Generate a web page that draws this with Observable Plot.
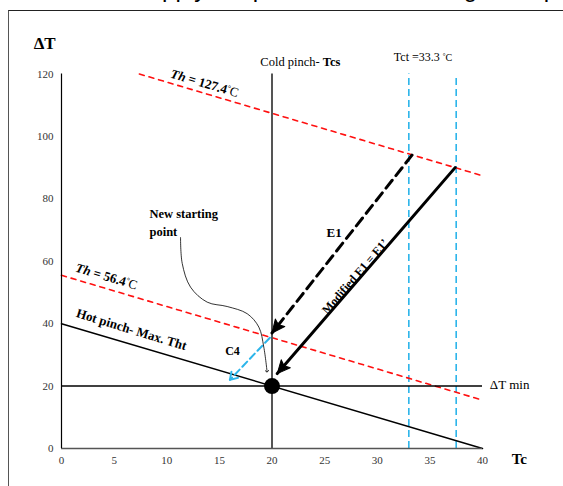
<!DOCTYPE html>
<html><head><meta charset="utf-8">
<script src="https://cdn.jsdelivr.net/npm/d3@7"></script>
<script src="https://cdn.jsdelivr.net/npm/@observablehq/plot@0.6"></script>
<style>
body{margin:0;background:#fff;}
#wrap{position:relative;width:563px;height:486px;overflow:hidden;background:#fff;}
#chart{position:absolute;left:0;top:0;}
#cap{position:absolute;left:10px;top:-23px;font:24px/24px "Liberation Sans",Arial,sans-serif;white-space:nowrap;color:#000;}
#frame{position:absolute;left:8px;top:10px;width:700px;height:700px;border-left:1.5px solid #555;border-top:1.5px solid #222;pointer-events:none;}
</style></head>
<body><div id="wrap"><div id="chart"></div><div id="cap">and the hot supply temperature and the target temperature</div><div id="frame"></div></div>
<script>
// ---- data ----
const xTicks = [0, 5, 10, 15, 20, 25, 30, 35, 40];
const yTicks = [0, 20, 40, 60, 80, 100, 120];
const hotPinch = [[0, 40], [40, 0]];
const coldPinchX = [20];
const dtMin = [20];
const th127 = [[7.4, 120], [40, 87.4]];
const th56 = [[0, 55.5], [40, 15.5]];
const tctX = [33, 37.5];
const tctTop = [120, 118.6];
const e1 = [[33.3, 94], [20, 37]];
const e1Mod = [[37.4, 90], [20.5, 24]];
const c4 = [[19.8, 35.5], [16, 22]];
const newStartCurve = [[11.31, 67.6], [11.47, 59.3], [12.26, 51.7], [13.84, 46.9], [15.74, 45.5], [17.64, 43.2], [18.75, 38.9], [19.22, 32.5], [19.53, 24.7]];
const startPoint = [[20, 20]];

// ---- layout ----
const W = 563, H = 486, mL = 61, mR = 81, mT = 73.5, mB = 38;
const kx = (W - mL - mR) / 40, ky = (H - mT - mB) / 120;
function head(seg) {
  const [a, b] = seg;
  const dx = (b[0] - a[0]) * kx, dy = -(b[1] - a[1]) * ky;
  return {x: b[0], y: b[1], rotate: Math.atan2(dx, -dy) * 180 / Math.PI};
}
const triangle = {draw(c, l, r) { c.moveTo(0, -l); c.lineTo(r, 0); c.lineTo(0, -l * 0.2); c.lineTo(-r, 0); c.closePath(); }};
const chevron = {draw(c, l, r) { c.moveTo(-r, 0); c.lineTo(0, -l); c.lineTo(r, 0); }};
const X = d => d[0], Y = d => d[1];

const serif = '"Liberation Serif","Times New Roman",serif';
const plot = Plot.plot({
  width: W, height: H, marginLeft: mL, marginRight: mR, marginTop: mT, marginBottom: mB,
  x: {domain: [0, 40]}, y: {domain: [0, 120]},
  style: {fontFamily: serif, fontSize: "11px", background: "none", color: "#000", overflow: "visible"},
  marks: [
    Plot.axisX(xTicks, {tickSize: 0, tickPadding: 8, fontSize: 11, fill: "#333", label: null}),
    Plot.axisY(yTicks, {tickSize: 0, tickPadding: 8, fontSize: 11, fill: "#333", label: null}),
    Plot.ruleX(tctX, {x: d => d, y1: 0, y2: (d, i) => tctTop[i], stroke: "#2cb5ea", strokeWidth: 1.6, strokeDasharray: "7,4"}),
    Plot.line(th127, {x: X, y: Y, stroke: "#ff1010", strokeWidth: 1.6, strokeDasharray: "5,5"}),
    Plot.line(th56, {x: X, y: Y, stroke: "#ff1010", strokeWidth: 1.6, strokeDasharray: "5,5"}),
    Plot.line(hotPinch, {x: X, y: Y, stroke: "#000", strokeWidth: 1.5}),
    Plot.ruleY(dtMin, {y: d => d, x1: 0, x2: 40, stroke: "#000", strokeWidth: 1.5}),
    Plot.ruleX(coldPinchX, {x: d => d, y1: 0, y2: 120, stroke: "#555", strokeWidth: 2}),
    Plot.ruleY([0], {x1: 0, x2: 40, stroke: "#555", strokeWidth: 1.5}),
    Plot.ruleX([0], {y1: 0, y2: 120, stroke: "#000", strokeWidth: 1.2}),
    Plot.line(e1, {x: X, y: Y, stroke: "#000", strokeWidth: 3, strokeDasharray: "10,6"}),
    Plot.line(e1Mod, {x: X, y: Y, stroke: "#000", strokeWidth: 3}),
    Plot.line(c4, {x: X, y: Y, stroke: "#2cb5ea", strokeWidth: 2, strokeDasharray: "7,4"}),
    Plot.vector([head(e1), head(e1Mod)], {x: "x", y: "y", rotate: "rotate", length: 13, r: 6, anchor: "end", shape: triangle, fill: "#000", stroke: "#000", strokeWidth: 1}),
    Plot.vector([head(c4)], {x: "x", y: "y", rotate: "rotate", length: 7, r: 4.5, anchor: "end", shape: chevron, fill: "none", stroke: "#2cb5ea", strokeWidth: 2}),
    Plot.line(newStartCurve, {x: X, y: Y, curve: "catmull-rom", stroke: "#000", strokeWidth: 0.8, markerEnd: "arrow"}),
    Plot.dot(startPoint, {x: X, y: Y, r: 8, fill: "#000"}),
    Plot.text(["ΔT"], {x: -1.6, y: 129.8, text: d => d, fontSize: 17, fontWeight: "bold", fill: "#000"}),
    Plot.text(["Cold pinch- Tcs"], {x: 22.7, y: 124, text: d => d, fontSize: 12.5, fill: "#000"}),
    Plot.text(["Tct =33.3 °C"], {x: 34.35, y: 125.3, text: d => d, fontSize: 12, fill: "#000"}),
    Plot.text(["Th = 127.4°C"], {x: 13.6, y: 117, text: d => d, rotate: 16.5, fontSize: 13, fill: "#000"}),
    Plot.text(["Th = 56.4°C"], {x: 4.28, y: 55.1, text: d => d, rotate: 16.5, fontSize: 13, fill: "#000"}),
    Plot.text(["Hot pinch- Max. Tht"], {x: 6.65, y: 38.1, text: d => d, rotate: 17, fontSize: 13, fontWeight: "bold", fill: "#000"}),
    Plot.text(["New starting\npoint"], {x: 8.36, y: 72.8, text: d => d, textAnchor: "start", lineHeight: 1.45, fontSize: 12.5, fontWeight: "bold", fill: "#000"}),
    Plot.text(["E1"], {x: 25.9, y: 69.2, text: d => d, fontSize: 13, fontWeight: "bold", fill: "#000"}),
    Plot.text(["C4"], {x: 16.25, y: 31.1, text: d => d, fontSize: 12, fontWeight: "bold", fill: "#000"}),
    Plot.text(["Modified E1 = E1’"], {x: 27.9, y: 55.1, text: d => d, rotate: -49.3, fontSize: 12, fontWeight: "bold", fill: "#000"}),
    Plot.text(["ΔT min"], {x: 40.7, y: 20.5, text: d => d, textAnchor: "start", fontSize: 13, fill: "#000"}),
    Plot.text(["Tc"], {x: 43.5, y: -3.5, text: d => d, fontSize: 15, fontWeight: "bold", fill: "#000"})
  ]
});
document.getElementById("chart").appendChild(plot);

function rich(str, parts) {
  d3.select(plot).selectAll("text").filter(function () { return this.textContent === str; }).each(function () {
    const t = d3.select(this); t.text(null);
    parts.forEach(p => {
      const s = t.append("tspan").text(p.t);
      if (p.w) s.attr("font-weight", p.w);
      if (p.s) s.attr("font-style", p.s);
      if (p.fs) s.attr("font-size", p.fs);
      if (p.dy) s.attr("dy", p.dy);
    });
  });
}
rich("Cold pinch- Tcs", [{t: "Cold pinch- "}, {t: "Tcs", w: "bold"}]);
rich("Tct =33.3 °C", [{t: "Tct =33.3 "}, {t: "°", fs: "7px", dy: "-3"}, {t: "C", fs: "10px", dy: "3"}]);
rich("Th = 127.4°C", [{t: "Th", w: "bold", s: "italic"}, {t: " = 127.4", w: "bold"}, {t: "°", fs: "8px", dy: "-4"}, {t: "C", dy: "4"}]);
rich("Th = 56.4°C", [{t: "Th", w: "bold", s: "italic"}, {t: " = 56.4", w: "bold"}, {t: "°", fs: "8px", dy: "-4"}, {t: "C", dy: "4"}]);
</script>
</body></html>
